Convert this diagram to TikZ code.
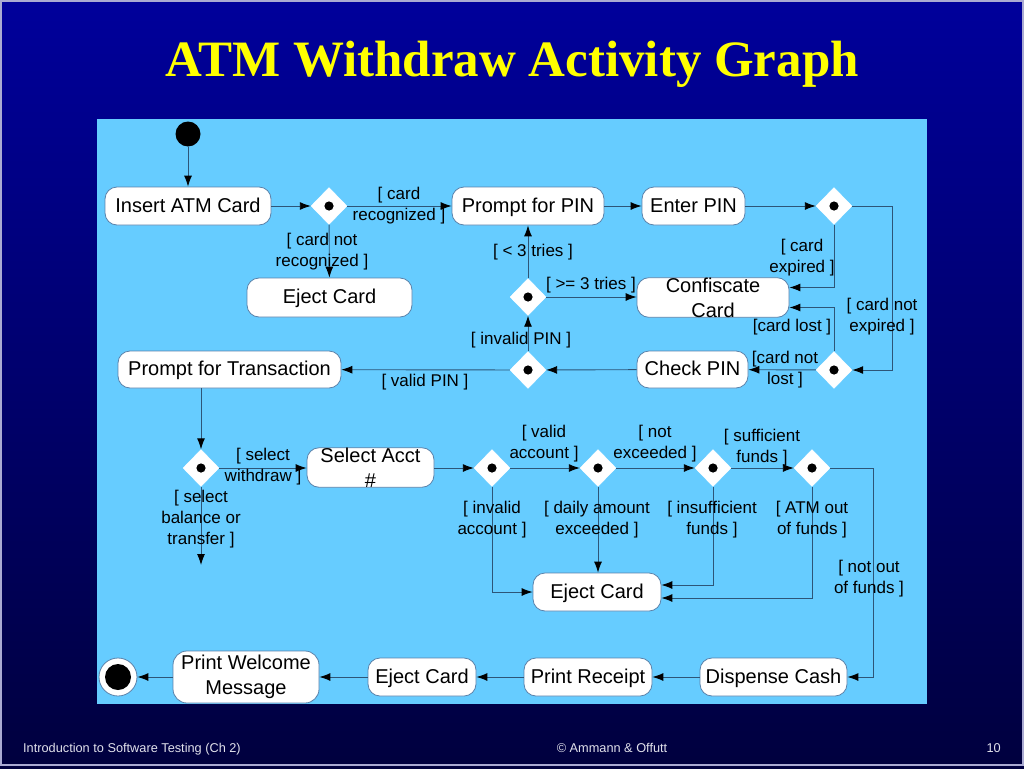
\documentclass[tikz,border=0pt]{standalone}
\usepackage{fontspec}
\setmainfont{Liberation Sans}
\newfontfamily\titlefont{Liberation Serif}
\usetikzlibrary{arrows.meta,shapes.geometric}
\definecolor{panelc}{RGB}{102,204,255}
\definecolor{linec}{RGB}{45,85,120}
\definecolor{boxc}{RGB}{90,130,170}
\definecolor{bgtop}{RGB}{0,0,155}
\definecolor{bgbot}{RGB}{0,0,62}
\definecolor{titlec}{RGB}{255,255,0}
\definecolor{footc}{RGB}{225,225,235}
\definecolor{framec}{RGB}{170,170,210}
\tikzset{
  act/.style={draw=boxc, line width=0.8pt, fill=white, rounded corners=12pt, inner sep=0pt, align=center,
    font=\fontsize{20}{25}\selectfont},
  oneline/.style={text height=15pt, text depth=3pt},
  decision/.style={shape=diamond, fill=white, draw=white, inner sep=0pt, minimum width=36pt, minimum height=37pt,
    path picture={\fill[black] (path picture bounding box.center) circle (4.6pt);}},
  guard/.style={align=center, inner sep=0pt, font=\fontsize{17}{21}\selectfont, text=black},
  conn/.style={draw=linec, line width=0.9pt, -{Latex[length=11pt,width=8pt,color=black]}},
  foot/.style={text=footc, font=\fontsize{12.75}{15}\selectfont, inner sep=0pt}
}
\begin{document}
\begin{tikzpicture}[x=1pt,y=-1pt]
\useasboundingbox (0,0) rectangle (1024,768);
\shade[top color=bgtop, bottom color=bgbot] (0,0) rectangle (1024,768);
\draw[framec, line width=1.5pt] (1,1) rectangle (1023,765);
% title
\node[anchor=base, text=titlec, font=\titlefont\bfseries\fontsize{51}{60}\selectfont, inner sep=0pt] (title) at (512,77) {ATM Withdraw Activity Graph};
% panel
\fill[panelc] (97,119) rectangle (927,704);

% initial / final
\node[circle, fill=black, minimum size=25pt, inner sep=0pt] (init) at (188,134) {};
\node[circle, draw=boxc, line width=0.8pt, fill=white, minimum size=38pt, inner sep=0pt,
  path picture={\fill[black] (path picture bounding box.center) circle (13pt);}] (final) at (118,677) {};

% activities
\node[act, oneline, minimum width=166pt, minimum height=38pt] (insert) at (188,206) {Insert ATM Card};
\node[act, oneline, minimum width=152pt, minimum height=38pt] (pin) at (528,206) {Prompt for PIN};
\node[act, oneline, minimum width=103pt, minimum height=38pt] (enter) at (693.5,206) {Enter PIN};
\node[act, oneline, minimum width=165pt, minimum height=39pt] (eject1) at (329.5,297.5) {Eject Card};
\node[act, minimum width=152pt, minimum height=39pt] (confiscate) at (713,297.5) {Confiscate\\Card};
\node[act, oneline, minimum width=223pt, minimum height=37pt] (trans) at (229.5,369.5) {Prompt for Transaction};
\node[act, oneline, minimum width=111pt, minimum height=37pt] (check) at (692.5,369.5) {Check PIN};
\node[act, minimum width=127pt, minimum height=39pt] (select) at (370.5,467.5) {Select Acct\\\#};
\node[act, oneline, minimum width=128pt, minimum height=38pt] (eject2) at (597,592) {Eject Card};
\node[act, oneline, minimum width=147pt, minimum height=38pt] (dispense) at (773.5,677) {Dispense Cash};
\node[act, oneline, minimum width=128pt, minimum height=38pt] (receipt) at (588,677) {Print Receipt};
\node[act, oneline, minimum width=108pt, minimum height=38pt] (eject3) at (422,677) {Eject Card};
\node[act, minimum width=146pt, minimum height=52pt, rounded corners=14pt] (welcome) at (246,677) {Print Welcome\\Message};

% decisions
\node[decision] (d1) at (329,206) {};
\node[decision] (d2) at (834,206) {};
\node[decision] (d3) at (528,297) {};
\node[decision] (d4) at (528,370) {};
\node[decision] (d5) at (834,370) {};
\node[decision] (d6) at (201,468) {};
\node[decision] (d7) at (492,468) {};
\node[decision] (d8) at (598,468) {};
\node[decision] (d9) at (713,468) {};
\node[decision] (d10) at (812,468) {};

\coordinate (c2) at (892,206);
\coordinate (c10) at (873,468);
\coordinate (d6end) at (201,565);

% connectors
\draw[conn] (init) -- (insert);
\draw[conn] (insert) -- (d1);
\draw[conn] (d1) -- (pin);
\draw[conn] (d1) -- (eject1);
\draw[conn] (pin) -- (enter);
\draw[conn] (enter) -- (d2);
\draw[conn] (d2.south) |- ([yshift=10pt]confiscate.east);
\draw[conn] (d2.east) -- (c2) |- (d5.east);
\draw[conn] (d5.north) |- ([yshift=-10pt]confiscate.east);
\draw[conn] (d5) -- (check);
\draw[conn] (check) -- (d4);
\draw[conn] (d4) -- (d3);
\draw[conn] (d3) -- (pin);
\draw[conn] (d3) -- (confiscate.west |- d3);
\draw[conn] (d4) -- (trans);
\draw[conn] (trans.south -| d6) -- (d6);
\draw[conn] (d6) -- (select.west |- d6);
\draw[conn] (d6) -- (d6end);
\draw[conn] (select.east |- d7) -- (d7);
\draw[conn] (d7) -- (d8);
\draw[conn] (d8) -- (d9);
\draw[conn] (d9) -- (d10);
\draw[conn] (d7.south) |- (eject2.west);
\draw[conn] (d8) -- (eject2.north -| d8);
\draw[conn] (d9.south) |- ([yshift=7pt]eject2.east);
\draw[conn] (d10.south) |- ([yshift=-6pt]eject2.east);
\draw[conn] (d10.east) -- (c10) |- (dispense.east);
\draw[conn] (dispense) -- (receipt);
\draw[conn] (receipt) -- (eject3);
\draw[conn] (eject3) -- (welcome);
\draw[conn] (welcome) -- (final);

% guards
\node[guard] (g1) at (399,206) {[ card\\recognized ]};
\node[guard] (g2) at (322,251.5) {[ card not\\recognized ]};
\node[guard] (g3) at (533,252) {[ < 3 tries ]};
\node[guard] (g4) at (591,285) {[ >= 3 tries ]};
\node[guard] (g5) at (521,340) {[ invalid PIN ]};
\node[guard] (g6) at (425,382) {[ valid PIN ]};
\node[guard] (g7) at (802,258) {[ card\\expired ]};
\node[guard] (g8) at (882,317) {[ card not\\expired ]};
\node[guard] (g9) at (792,327) {[card lost ]};
\node[guard] (g10) at (785,370) {[card not\\lost ]};
\node[guard] (g11) at (263,467) {[ select\\withdraw ]};
\node[guard] (g12) at (201,519.5) {[ select\\balance or\\transfer ]};
\node[guard] (g13) at (492,519.5) {[ invalid\\account ]};
\node[guard] (g14) at (544,444) {[ valid\\account ]};
\node[guard] (g15) at (655,444) {[ not\\exceeded ]};
\node[guard] (g16) at (762,447.5) {[ sufficient\\funds ]};
\node[guard] (g17) at (597,520) {[ daily amount\\exceeded ]};
\node[guard] (g18) at (712,520) {[ insufficient\\funds ]};
\node[guard] (g19) at (812,520) {[ ATM out\\of funds ]};
\node[guard] (g20) at (869,578.5) {[ not out\\of funds ]};

% footer
\node[foot, anchor=base west] (f1) at (23,752) {Introduction to Software Testing (Ch 2)};
\node[foot, anchor=base] (f2) at (612,752) {© Ammann \& Offutt};
\node[foot, anchor=base east] (f3) at (1001,752) {10};
\end{tikzpicture}
\end{document}
